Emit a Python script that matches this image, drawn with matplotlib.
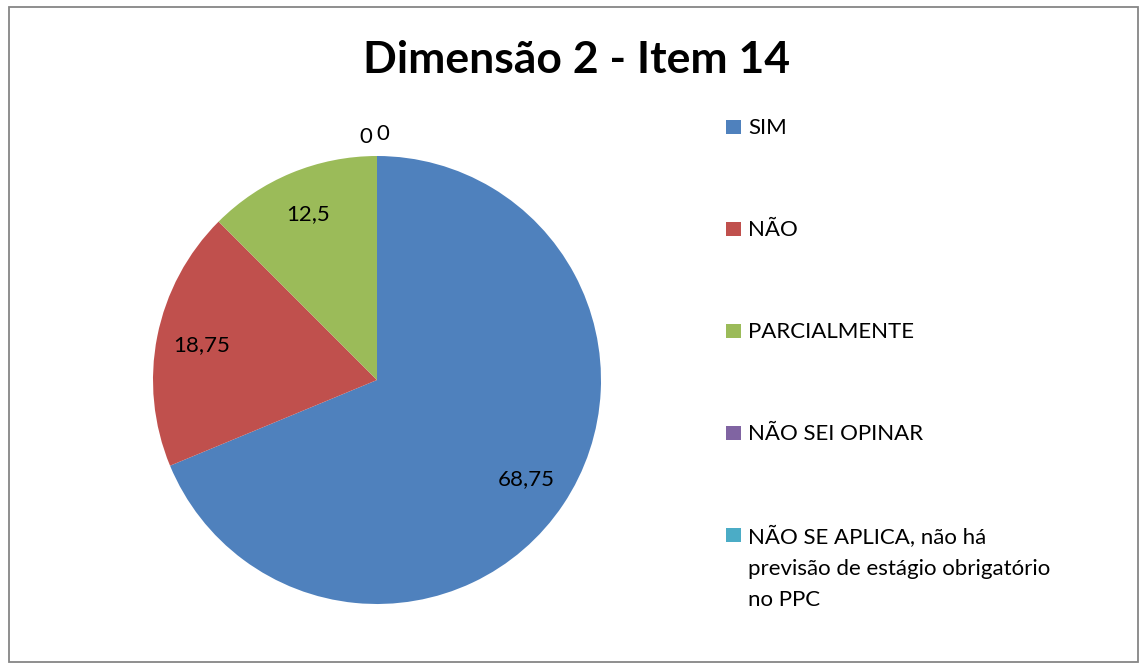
import numpy as np
import matplotlib.pyplot as plt
from matplotlib.patches import Rectangle

plt.rcParams['font.family'] = ['Lato', 'DejaVu Sans']

categories = ['SIM', 'NÃO', 'PARCIALMENTE', 'NÃO SEI OPINAR',
              'NÃO SE APLICA, não há\nprevisão de estágio obrigatório\nno PPC']
values = [68.75, 18.75, 12.5, 0, 0]
colors = ['#4F81BD', '#C0504D', '#9BBB59', '#8064A2', '#4BACC6']
title = 'Dimensão 2 - Item 14'

W, H = 1146, 668
fig = plt.figure(figsize=(W / 100, H / 100), dpi=100)

# outer chart border
fig.add_artist(Rectangle((8.5 / W, 6.5 / H), 1129 / W, 655 / H, transform=fig.transFigure,
                         fill=False, edgecolor='#868686', linewidth=1.3))

ax = fig.add_axes([153 / W, 64 / H, 448 / W, 448 / H])
wedges, _ = ax.pie(values, colors=colors, startangle=90, counterclock=False, radius=1)
ax.set_xlim(-1, 1)
ax.set_ylim(-1, 1)
ax.set_aspect('equal')

k = 0
for w, v in zip(wedges, values):
    lab = f"{v:g}".replace('.', ',')
    if v > 0:
        ang = np.deg2rad((w.theta1 + w.theta2) / 2)
        ax.text(0.8 * np.cos(ang), 0.8 * np.sin(ang), lab, ha='center', va='center', fontsize=16)
    else:
        ax.text(-0.05 + 0.075 * k, 1.085 + 0.015 * k, lab, ha='center', va='center', fontsize=16)
        k += 1

fig.text(577 / W, 1 - 60 / H, title, ha='center', va='center', fontsize=32, fontweight='bold')

# legend (square aligned with first text line)
for i, (lab, col) in enumerate(zip(categories, colors)):
    yc = 127 + 102 * i
    fig.add_artist(Rectangle((726 / W, 1 - (yc + 7) / H), 15 / W, 14 / H, transform=fig.transFigure,
                             facecolor=col, edgecolor='none'))
    fig.text(748 / W, 1 - (yc - 9) / H, lab, ha='left', va='top', fontsize=16, linespacing=1.7)

fig.savefig('out.png', dpi=100)
